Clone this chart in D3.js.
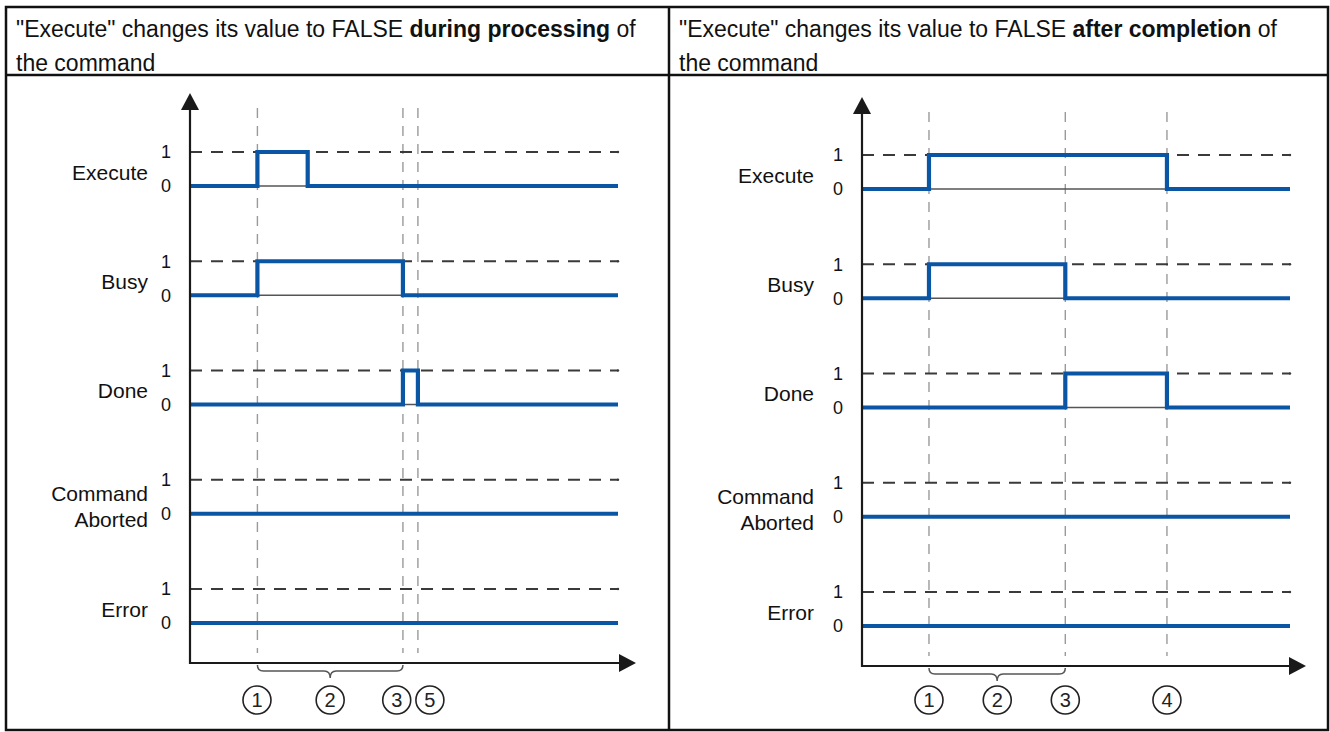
<!DOCTYPE html>
<html><head><meta charset="utf-8">
<script src="https://cdn.jsdelivr.net/npm/d3@7"></script>
<style>html,body{margin:0;padding:0;background:#fff}svg{display:block}</style>
</head><body>
<svg id="c" width="1330" height="732"></svg>
<script>
// ---------- data ----------
const signals = ["Execute", "Busy", "Done", "Command\nAborted", "Error"];
const levelLabels = ["1", "0"];
const timeDomain = [0, 20];

const headerLeft = [
  [{t: "\"Execute\" changes its value to FALSE ", b: false}, {t: "during processing", b: true}, {t: " of", b: false}],
  [{t: "the command", b: false}]
];
const headerRight = [
  [{t: "\"Execute\" changes its value to FALSE ", b: false}, {t: "after completion", b: true}, {t: " of", b: false}],
  [{t: "the command", b: false}]
];

// step series: [time, value]
const leftExecute = [[0, 0], [3.15, 1], [5.5, 0], [20, 0]];
const leftBusy    = [[0, 0], [3.15, 1], [9.95, 0], [20, 0]];
const leftDone    = [[0, 0], [9.95, 1], [10.65, 0], [20, 0]];
const leftAborted = [[0, 0], [20, 0]];
const leftError   = [[0, 0], [20, 0]];
const leftMarkers = [3.15, 9.95, 10.65];
const leftCircles = [{n: "1", t: 3.13}, {n: "2", t: 6.55}, {n: "3", t: 9.66}, {n: "5", t: 11.21}];
const leftBrace = [3.15, 9.95];

const rightExecute = [[0, 0], [3.13, 1], [14.25, 0], [20, 0]];
const rightBusy    = [[0, 0], [3.13, 1], [9.5, 0], [20, 0]];
const rightDone    = [[0, 0], [9.5, 1], [14.25, 0], [20, 0]];
const rightAborted = [[0, 0], [20, 0]];
const rightError   = [[0, 0], [20, 0]];
const rightMarkers = [3.13, 9.5, 14.25];
const rightCircles = [{n: "1", t: 3.13}, {n: "2", t: 6.32}, {n: "3", t: 9.5}, {n: "4", t: 14.25}];
const rightBrace = [3.13, 9.5];

// ---------- drawing ----------
const svg = d3.select("#c");
const FONT = "'Liberation Sans', Arial, Helvetica, sans-serif";
const BLUE = "#0b56a4";

// table frame
svg.append("rect").attr("x", 6).attr("y", 7).attr("width", 1322).attr("height", 723)
  .attr("fill", "none").attr("stroke", "#111").attr("stroke-width", 2.5);
svg.append("line").attr("x1", 669).attr("x2", 669).attr("y1", 7).attr("y2", 730)
  .attr("stroke", "#111").attr("stroke-width", 2.5);
svg.append("line").attr("x1", 6).attr("x2", 1328).attr("y1", 75).attr("y2", 75)
  .attr("stroke", "#111").attr("stroke-width", 2.5);

function header(lines, x) {
  lines.forEach((runs, i) => {
    const t = svg.append("text").attr("x", x).attr("y", 37 + i * 34)
      .attr("font-family", FONT).attr("font-size", 23).attr("fill", "#111");
    runs.forEach(r => t.append("tspan").attr("font-weight", r.b ? "bold" : "normal")
      .style("white-space", "pre").text(r.t));
  });
}
header(headerLeft, 16);
header(headerRight, 679);

const panels = [
  {axisX: 190, row1: 152, bottom: 663, topTip: 93, xTip: 636, labelX: 148, numX: 166,
   series: [leftExecute, leftBusy, leftDone, leftAborted, leftError],
   markers: leftMarkers, circles: leftCircles, brace: leftBrace},
  {axisX: 862, row1: 155, bottom: 666, topTip: 97, xTip: 1306, labelX: 814, numX: 838,
   series: [rightExecute, rightBusy, rightDone, rightAborted, rightError],
   markers: rightMarkers, circles: rightCircles, brace: rightBrace}
];

panels.forEach(p => {
  const g = svg.append("g");
  const x = d3.scaleLinear().domain(timeDomain).range([p.axisX, p.axisX + 428]);
  const row = d3.scalePoint().domain(signals).range([p.row1, p.row1 + 4 * 109.25]);
  const lvl = d3.scaleLinear().domain([1, 0]).range([0, 34]);

  // vertical dashed markers
  g.selectAll(".mk").data(p.markers).join("line")
    .attr("x1", d => x(d)).attr("x2", d => x(d))
    .attr("y1", p.topTip + 15).attr("y2", p.bottom - 10)
    .attr("stroke", "#9a9a9a").attr("stroke-width", 1.4).attr("stroke-dasharray", "10,8");

  signals.forEach((s, i) => {
    const y0 = row(s);
    // dashed level-1 guide
    g.append("line").attr("x1", p.axisX).attr("x2", x(timeDomain[1]))
      .attr("y1", y0 + lvl(1)).attr("y2", y0 + lvl(1))
      .attr("stroke", "#3a3a3a").attr("stroke-width", 1.8).attr("stroke-dasharray", "12,9");
    g.append("circle").attr("cx", x(timeDomain[1])).attr("cy", y0 + lvl(1)).attr("r", 1.2).attr("fill", "#3a3a3a");
    // thin baseline at 0
    g.append("line").attr("x1", p.axisX).attr("x2", x(timeDomain[1]))
      .attr("y1", y0 + lvl(0)).attr("y2", y0 + lvl(0))
      .attr("stroke", "#555").attr("stroke-width", 1.3);
    // signal
    const line = d3.line().x(d => x(d[0])).y(d => y0 + lvl(d[1])).curve(d3.curveStepAfter);
    g.append("path").attr("d", line(p.series[i])).attr("fill", "none")
      .attr("stroke", BLUE).attr("stroke-width", 4.2).attr("stroke-linejoin", "miter");
    // level labels
    levelLabels.forEach(l => {
      g.append("text").attr("x", p.numX).attr("y", y0 + lvl(+l)).attr("dy", "0.36em")
        .attr("text-anchor", "middle").attr("font-family", FONT).attr("font-size", 18)
        .attr("fill", "#111").text(l);
    });
    // signal name
    const parts = s.split("\n");
    const mid = y0 + 17 + (parts.length > 1 ? -3 : 3);
    parts.forEach((pt, j) => {
      g.append("text").attr("x", p.labelX).attr("y", mid + j * 26).attr("dy", "0.36em")
        .attr("text-anchor", "end").attr("font-family", FONT).attr("font-size", 21)
        .attr("fill", "#111").text(pt);
    });
  });

  // axes
  g.append("path").attr("d", `M${p.axisX},${p.topTip + 12}V${p.bottom}H${p.xTip - 12}`)
    .attr("fill", "none").attr("stroke", "#1a1a1a").attr("stroke-width", 2.2);
  g.append("path").attr("d", `M${p.axisX},${p.topTip}l-9,17h18z`).attr("fill", "#1a1a1a");
  g.append("path").attr("d", `M${p.xTip},${p.bottom}l-17,-9v18z`).attr("fill", "#1a1a1a");

  // brace
  const bx0 = x(p.brace[0]), bx1 = x(p.brace[1]), bm = (bx0 + bx1) / 2;
  const ya = p.bottom + 2, yb = p.bottom + 8, yc = p.bottom + 15, r = 6;
  g.append("path").attr("d",
    `M${bx0},${ya}Q${bx0},${yb} ${bx0 + r},${yb}L${bm - r},${yb}Q${bm},${yb} ${bm},${yc}` +
    `Q${bm},${yb} ${bm + r},${yb}L${bx1 - r},${yb}Q${bx1},${yb} ${bx1},${ya}`)
    .attr("fill", "none").attr("stroke", "#555").attr("stroke-width", 1.5);

  // numbered circles
  const cg = g.selectAll(".cn").data(p.circles).join("g")
    .attr("transform", d => `translate(${x(d.t)},700)`);
  cg.append("circle").attr("r", 14).attr("fill", "#fff").attr("stroke", "#222").attr("stroke-width", 1.6);
  cg.append("text").attr("text-anchor", "middle").attr("dy", "0.36em")
    .attr("font-family", FONT).attr("font-size", 20).attr("fill", "#222").text(d => d.n);
});
</script>
</body></html>
